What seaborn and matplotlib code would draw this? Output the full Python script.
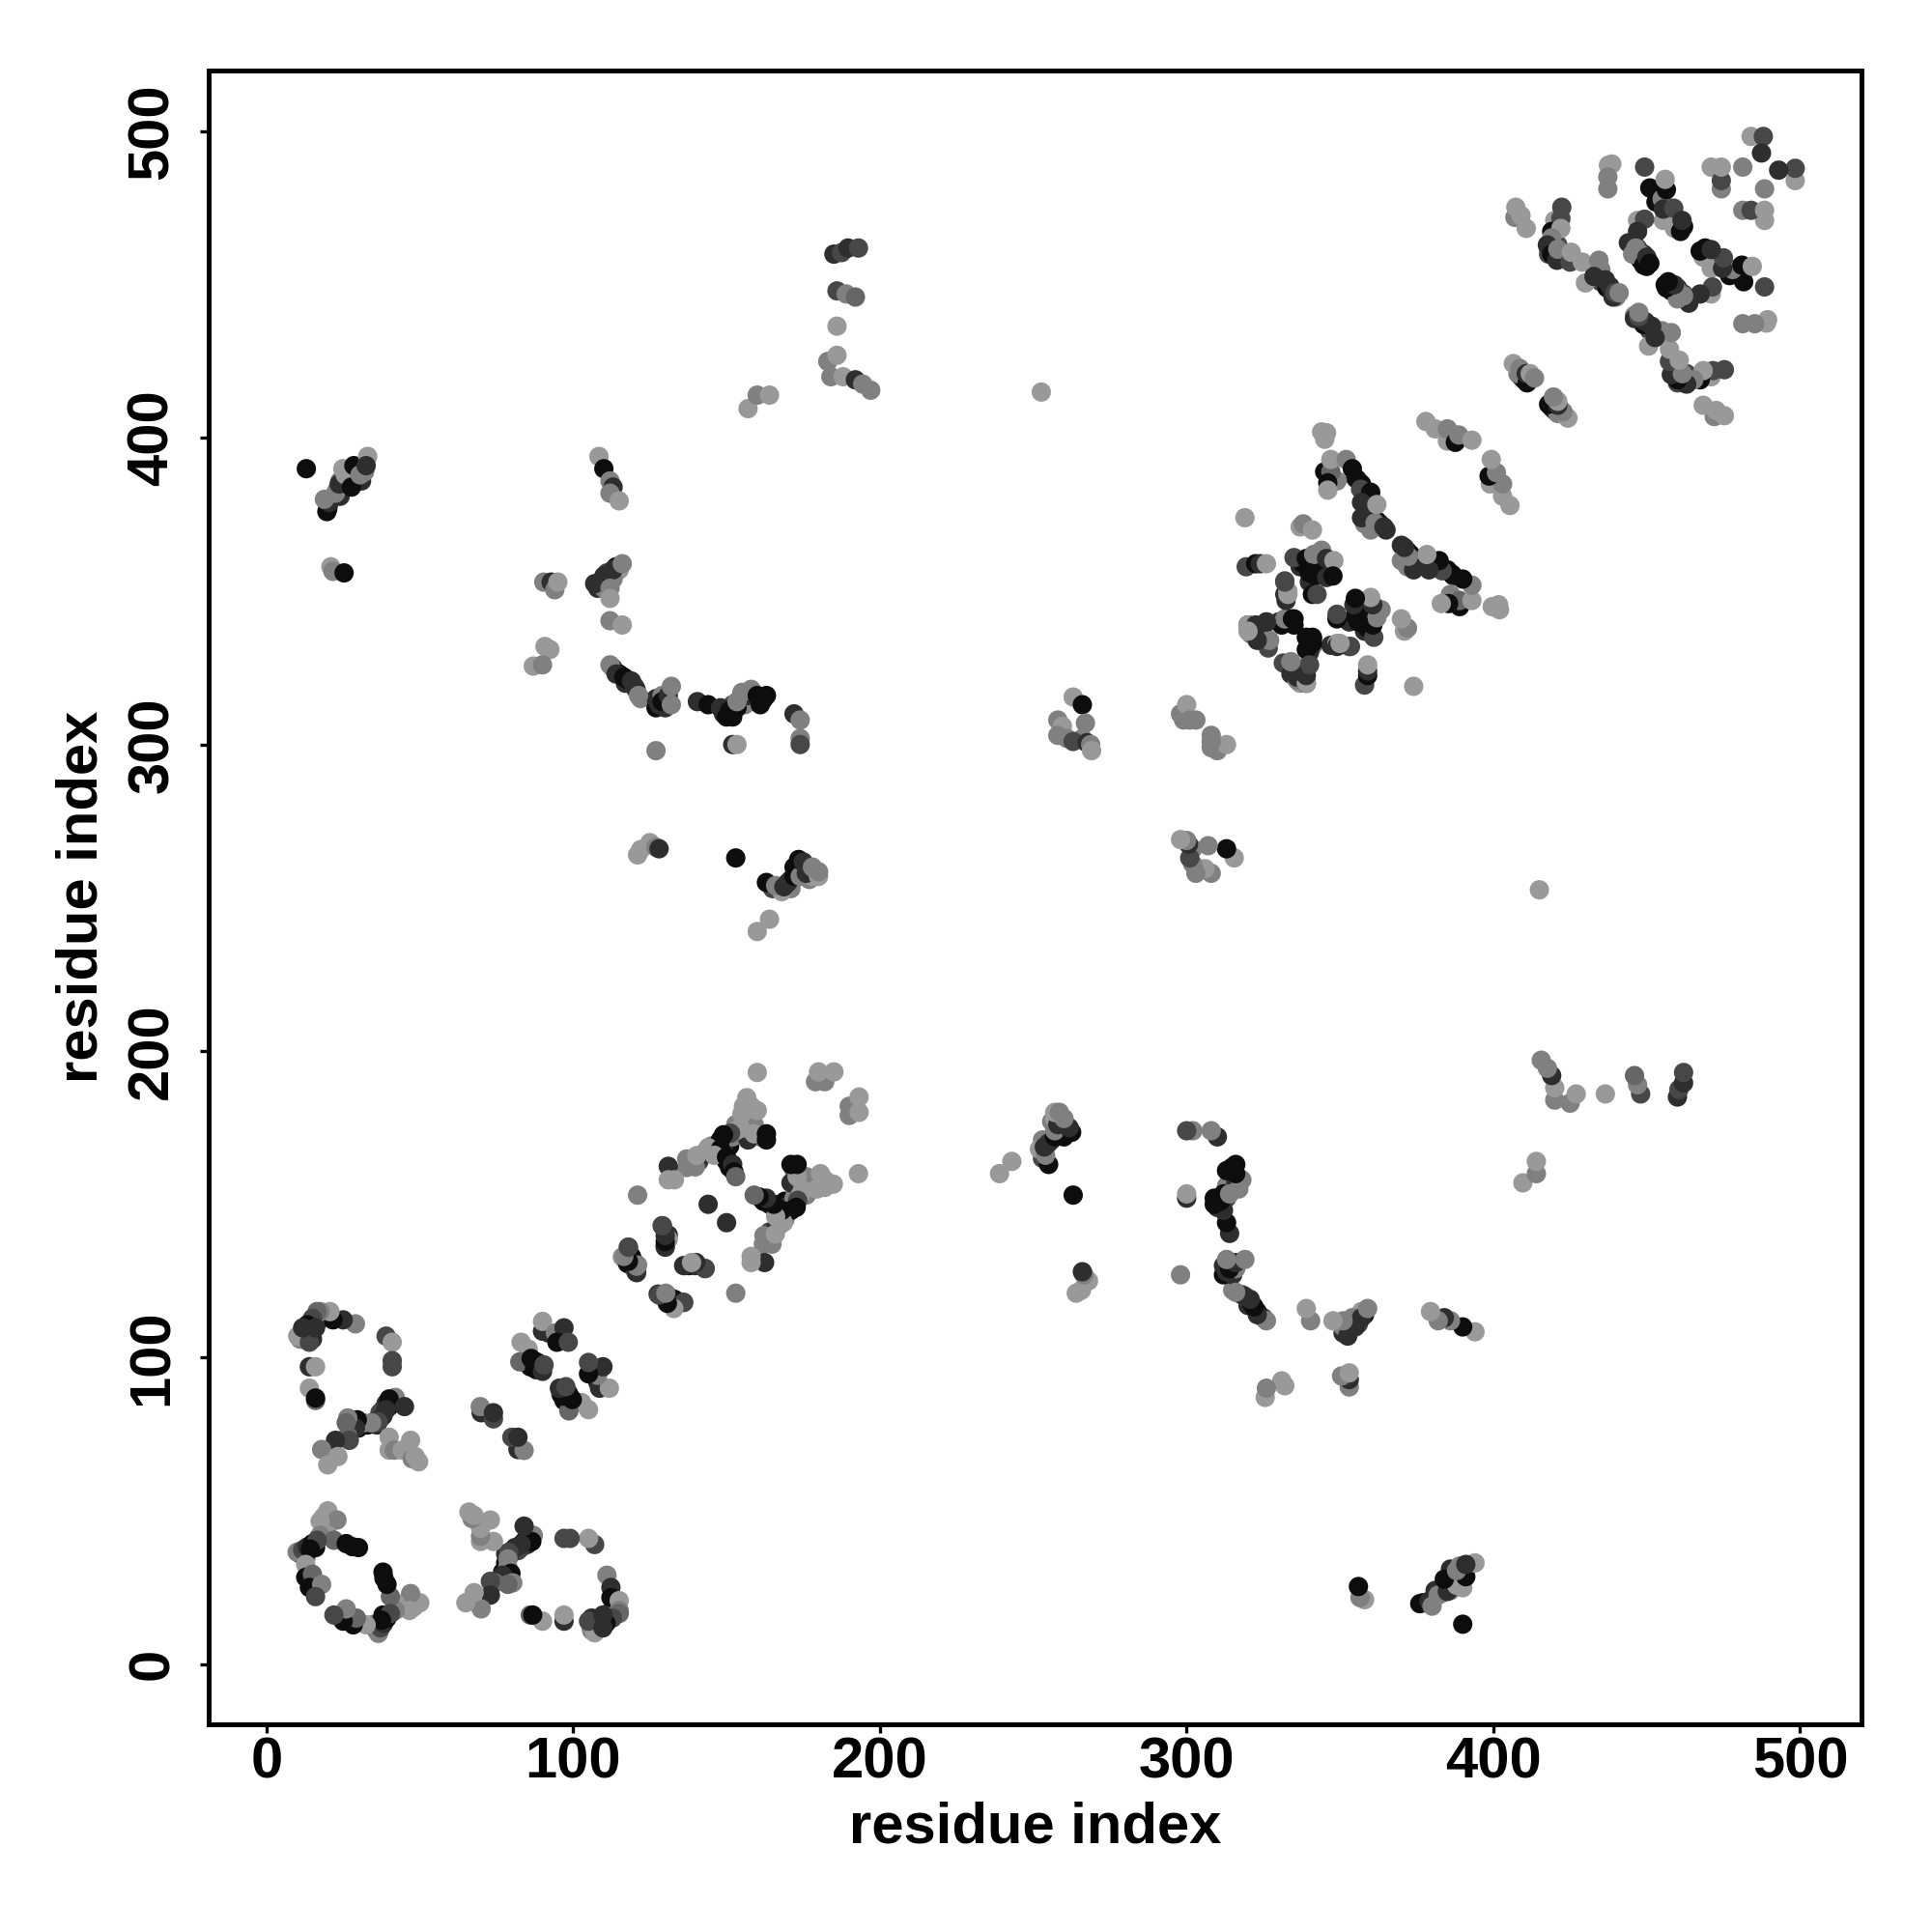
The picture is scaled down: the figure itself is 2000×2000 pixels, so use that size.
"""Residue contact map, drawn from the contacts with i < j and mirrored."""

import pandas as pd
import matplotlib
matplotlib.use("Agg")
import matplotlib.pyplot as plt
import seaborn as sns

# grey levels
K, D, S, M, L, P = 0.05, 0.18, 0.28, 0.40, 0.50, 0.60

# (residue i, residue j, grey) for one half of the map
loop_low = [
    (20, 50, P), (18.6, 48, P), (23, 47, L), (17.5, 46.6, P), (20, 42, P), (17.5, 42, L),
    (22, 40.4, M), (10, 36.5, L), (11.8, 37.2, S), (13.3, 38.2, D), (15, 39.3, K), (16.5, 40.4, S),
    (14.3, 37.5, K), (26, 39.3, K), (28, 38.3, K), (30, 38, K),
    (12.8, 32.5, P), (12.8, 28.3, K), (15, 29.3, M), (14, 25, K), (18, 26, L), (16, 22, S),
]
loop_mid = [
    (29, 111, L), (25, 112.3, D), (21.7, 112.3, K), (20.7, 115, P), (17.5, 115, L), (16.5, 115, M),
    (15, 112.8, S), (13.3, 110.7, K), (12.3, 108.6, K), (14, 107, D), (10.2, 107, P), (14, 105, S),
    (16, 109.7, D), (11.8, 109.7, D),
    (39, 107, S), (41, 105, P), (41, 99, S), (41, 97, S),
    (14, 97, D), (16, 97, P), (14, 90, P), (16, 86, M), (16, 86.8, K),
    (42, 87, L), (40, 86.5, K), (45, 84, D), (39, 83, D), (38, 81, D), (36.4, 79, S),
    (34.3, 78.7, L), (31.7, 78.7, L), (29.6, 79.7, K), (29, 77, D), (26.5, 80.3, L), (26, 78.7, M),
    (26.5, 74.5, M), (27, 73, S), (22.5, 73, D), (18, 70, L), (23.3, 67.7, P), (20, 65, P),
    (40, 74, P), (47, 73, P), (40, 69.8, P), (41.7, 69.8, L), (44.3, 69.8, P),
    (47.5, 67, L), (48.5, 67.7, P), (49.6, 66, P),
]
strand_100 = [
    (90, 108.6, D), (90, 111.8, P), (94.2, 108, L), (97, 109.7, D), (94.7, 105, K), (98.4, 105, S),
    (83, 105, P), (85.3, 102.8, P), (82.6, 98.6, M), (86.3, 99.7, K), (88, 98.6, K), (87.4, 96.5, K),
    (90, 95.5, D), (90.5, 97.6, S), (70, 82, D), (69.7, 84, L), (74, 80, S), (74, 82, D),
]
sheet_150 = [
    (160, 193, P), (179, 190, L), (182, 190, L), (180, 193.2, P), (185, 193.2, P),
    (155.5, 174.8, L), (155, 179.5, P), (155.5, 182, P), (156.6, 184.8, P), (160, 180.6, P),
    (154.5, 175, P), (153, 174, P), (151.3, 173.2, S), (149, 172.7, K), (148, 171, K),
    (159, 173, P), (163, 171, K), (163, 173, K),
    (143.5, 167.5, D), (144, 168.5, P), (148, 168, K), (146, 166, P), (150, 165.4, K),
    (152, 163, D), (152.4, 160.6, K), (153, 159, M),
    (137, 164.8, L), (137, 162, L), (139.8, 162.2, L), (140.3, 165.9, P),
    (131, 162.4, D), (131, 158, P), (133, 158, P), (121, 153, L), (144, 150, D),
    (129, 143, S), (131, 140, D), (130, 136.5, D), (131, 138.6, P),
    (118, 136, S), (116, 132.8, P), (117.7, 130.7, K), (120.4, 128, S), (121, 130.2, L),
    (136, 130, D), (137.8, 130, K), (139.8, 130, D), (143, 129.1, S),
    (127.7, 120.7, D), (129.8, 120.7, L), (131.4, 118, K), (133, 116.5, L), (136, 118, S),
]
patch_20_380 = [
    (13, 390, K), (19.7, 376, K), (20.5, 379, D), (18.9, 380, L), (22.5, 382, L), (23.7, 385, D),
    (25.7, 388, P), (24.9, 390, P), (27.7, 384, K), (28.5, 391, K), (30.5, 388, L),
    (33, 394, P), (32.5, 391, D),
    (21, 358, P), (21.7, 356.5, L), (25.3, 356, K),
]
arc_100_390 = [
    (108.4, 394, P), (110, 390, K), (112, 386, L), (113, 384, D), (112, 382, L), (115, 379.5, P),
    (107, 352.5, D), (110, 355, D), (113, 357, D), (112, 351, L), (116, 359, L), (112, 347.7, P),
    (112, 340.4, L), (116, 339, P),
    (90.4, 353, L), (92.8, 353, D), (94, 350.5, L), (95, 353, P),
    (90.8, 332, P), (92.4, 331, P), (87, 325.6, P), (90, 326, L),
]
arc_100_310 = [
    (112, 326, L), (114, 323, D), (116.5, 322, K), (119, 320.7, D), (120.5, 318, D), (121.3, 316, L),
    (128, 313, D), (129, 314, K), (131, 316, D), (132, 313, L), (132, 319, L), (127, 298, L),
    (140.5, 314, D), (144, 313, K), (148, 312, D), (151, 311, K), (150, 309, K), (153.4, 312, K),
    (153.4, 314, L), (155, 317, L), (158, 318, L), (160, 316, K), (162, 314.7, K),
    (152, 300, D), (153.4, 300, P),
    (172, 310, D), (174, 308, L), (174, 302, L), (174, 300, S),
    (121, 264, P), (122, 265.7, P), (125, 268, P), (127, 266.5, L), (128, 266, D),
    (153, 263, K), (163, 255, K), (166, 254, L), (168.7, 253.6, D), (170, 255, D), (172, 257, K),
    (174, 257, L), (173.5, 262.5, K), (175, 261.7, D), (176, 258, D), (178, 260, L),
    (180, 257, P), (180, 258.5, L),
    (164, 243, P), (160, 239, P),
]
patch_190_440 = [
    (157, 409.6, P), (160, 414, L), (164, 414, P),
    (185, 460, D), (187.5, 460.5, S), (189.6, 462, D), (193, 462, S),
    (186, 448, S), (189, 447, L), (192, 446, M), (186, 436.5, P),
    (183, 425, L), (186, 427, P), (184, 420, L), (188, 420, P), (192, 419, D), (194.4, 417.6, L),
    (197, 415.6, L),
    (252.6, 415, P),
]
patch_260_305 = [
    (258, 308, L), (259.5, 306, P), (258, 303, L), (261, 302, L), (263, 315.5, P), (266, 313, K),
    (267, 307, L), (266, 302, L), (263, 301, S), (267.5, 300.6, D), (268.7, 300, L), (269, 298, P),
    (298, 310, L), (299, 308, L), (300, 313, P), (301, 308, L), (303, 308, L),
]
block_340 = [
    (344, 402, P), (345, 399.6, P), (345.6, 401.7, P),
    (345, 389, K), (347, 389, M), (347, 393, P), (352, 393, L), (354, 390, K),
    (346, 385.4, K), (346, 383, P), (355.6, 386.5, K), (356.7, 383.3, S), (360, 382.3, K),
    (357, 379, D), (362, 378.3, P), (357, 374, D), (361.4, 372.3, L), (364.3, 371, D),
    (319, 374, P), (337, 371, P), (338, 372, L), (341, 370, P),
    (335, 361, S), (339, 360.7, K), (341.4, 362, L), (344, 363.4, L), (345.6, 360.7, D), (348, 360, P),
    (340, 356, K), (342, 355, K), (345.6, 354.5, D), (347.7, 355, K),
    (319.4, 358, S), (322.5, 359, K), (324, 359, D), (326, 359, P),
    (332, 353.4, S), (332, 349, D), (333, 350, P), (341, 349, K), (342.5, 349, S),
    (320, 339, P), (322.5, 339, D), (326, 340, S), (323.6, 334.5, D), (327, 334, L),
    (333, 341, K), (335, 341, K), (341, 332, L), (341, 334.5, K),
    (347, 332.4, D), (349, 333, P), (353, 332, S),
    (331.5, 326.6, S), (334, 327, L), (334, 323, D), (340, 326, D), (338, 322.4, D), (337, 320, P),
    (378, 405.4, P), (381, 403, P), (385, 399, P), (385, 403, L), (387.6, 398.6, K), (388.7, 401, L),
    (393, 399.3, P),
]
block_450 = [
    (484, 498.4, P), (488, 498.4, S), (487.4, 493, D),
    (438.6, 489.4, P), (437.5, 489, P), (437.3, 485.2, L), (437.3, 481.3, L),
    (449.3, 488.4, S), (451, 481.6, K), (455, 478, L), (456.4, 481, K), (456, 484.4, P),
    (455.4, 471, P), (455.4, 474.7, D), (458.8, 475, S), (459, 468.4, P), (461, 467.4, K), (461.5, 471, D),
    (471, 488.4, P), (474.3, 481.3, L), (474.3, 484, S), (474.3, 488.4, P), (481.3, 488.4, L),
    (447, 471, P), (449.3, 471.4, S), (447, 467.4, D),
    (444, 463.7, D), (445.4, 460, L), (446.4, 462, L), (448, 460, L), (449, 456.4, K), (450, 459, D),
    (451, 457, K),
    (407, 472, L), (407.3, 475.3, P), (409, 472.6, P), (410.7, 468.4, P),
    (420, 471, P), (422.3, 475.3, S), (422, 471.6, S), (419, 467.4, K), (422, 468.4, P),
    (419, 465.3, L), (417.6, 463, D), (419, 460, K), (420.7, 458, D), (421, 461.6, L),
    (425, 457.4, S), (425.4, 460.6, P), (429, 457.4, P), (434.4, 458, L),
    (430, 450.6, P), (435, 455, L), (432.8, 452.7, D), (436.5, 451.6, D), (438, 449.5, D),
    (439, 446, D), (439.6, 447.4, S), (441, 447.4, L),
    (406.5, 424.3, P), (408.6, 422.7, L), (411, 418, K), (410.7, 421, D), (412, 421, P), (413.4, 419.6, L),
]
# contacts hidden in the tightly packed strands, estimated from their thickness
packed_low = [
    (11, 36, K), (12.5, 37, D), (14, 38, K), (15.5, 39, S), (17, 41, D), (18.5, 43, L), (16, 38, K),
    (13, 35, L), (20.5, 46, L),
    (12, 106, K), (13, 108, K), (15, 110, K), (17, 112, S), (18, 113, D), (19, 114, L), (15, 106, D),
    (11, 106, L), (14.5, 108, K), (37, 80, K), (38, 83, K), (39, 85, D), (41, 86, L), (36, 78, D),
    (37, 82, S), (40, 84, K), (35, 79, D), (33, 78, K), (30, 77, K),
    (86, 97, K), (88, 96, D), (89, 98, K), (92, 108, D), (95, 106, K), (96, 108, S),
]
packed_sheet = [
    (147, 169, K), (149, 170, D), (150, 171, K), (151, 169, K), (148, 166, K), (149, 168, D),
    (152, 172, L), (153, 176, L), (155, 177, L), (157, 178, P), (158, 182, P), (150, 164, K),
    (151, 162, K), (141, 164, S), (142, 166, D), (145, 169, L), (159, 176, L), (161, 172, L),
    (157, 171, D), (119, 133, K), (118, 132, D), (119, 130, L), (120, 131, K),
]
packed_arcs = [
    (21, 380, D), (22, 381, K), (23, 383, L), (24, 381, D), (26, 385, K), (27, 386, D), (29, 388, K),
    (31, 390, D), (29, 386, L), (20, 377, K), (24, 386, L), (28, 390, S), (31, 386, D), (32, 389, L),
    (109, 353, K), (111, 354, K), (111, 356, S), (114, 358, K), (115, 357, P), (108, 351, D),
    (113, 354, L), (110, 351, L),
    (113, 325, S), (115, 323, K), (117, 320, D), (118, 321, K), (120, 319, S), (122, 315, L),
    (127, 312, K), (130, 312, D), (130, 314, L), (127, 315, D), (129, 316, L), (149, 310, D),
    (152, 309, K), (152, 313, S), (155, 315, D), (156, 313, L), (157, 316, D), (163, 316, K),
    (161, 313, K), (165, 253, S), (169, 254, K), (171, 256, D), (173, 258, D), (174, 260, K),
    (175, 259, S), (177, 256, L), (178, 257, P), (171, 253, L), (168, 252, P), (172, 260, K),
]
packed_blocks = [
    (355, 387, D), (357, 385, K), (358, 381, K), (359, 377, S), (360, 375, D), (362, 373, K),
    (363, 372, K), (365, 370, D), (358, 372, L), (360, 370, L), (347, 387, K), (349, 386, L),
    (337, 358, D), (338, 359, K), (340, 358, K), (341, 360, D), (343, 357, K), (344, 356, K),
    (346, 358, K), (334, 340, K), (330, 340, D), (323, 336, D), (325, 338, L), (321, 336, L),
    (340, 353, D), (331, 339, K), (335, 339, K), (322, 336, D), (324, 338, D), (320, 339, K),
    (418, 462, D), (419, 463, K), (420, 461, D), (422, 459, K), (423, 460, L), (421, 463, S),
    (418, 460, S), (433, 453, K), (434, 452, D), (435, 451, S), (437, 449, K), (440, 446, L),
    (446, 463, D), (447, 460, K), (448, 458, K), (450, 456, K), (447, 462, S), (449, 460, D),
    (453, 480, S), (453, 477, K), (455, 476, K), (457, 472, K), (458, 471, L), (459, 472, D),
    (462, 469, K), (409, 420, D), (410, 419, K), (408, 421, L),
]

tick_values = [0, 100, 200, 300, 400, 500]

regions = [packed_low, packed_sheet, packed_arcs, packed_blocks,
           loop_low, loop_mid, strand_100, sheet_150, patch_20_380, arc_100_390,
           arc_100_310, patch_190_440, patch_260_305, block_340, block_450]
half = pd.DataFrame([row for region in regions for row in region], columns=["i", "j", "grey"])

# the map is symmetric, so every contact shows up on both sides of the diagonal
contacts = pd.concat([half, half.rename(columns={"i": "j", "j": "i"})], ignore_index=True)
palette = {g: str(g) for g in contacts["grey"].unique()}

sns.set_style("white")
plt.rcParams["font.family"] = ["Liberation Sans", "DejaVu Sans"]
plt.rcParams["font.weight"] = "bold"

fig = plt.figure(figsize=(10, 10), dpi=200)
ax = fig.add_axes([215.5 / 2000, 1 - 1784.5 / 2000, (1927 - 215.5) / 2000, (1784.5 - 72.7) / 2000])

sns.scatterplot(data=contacts, x="i", y="j", hue="grey", palette=palette, s=52,
                linewidth=0, legend=False, ax=ax, clip_on=True)

ax.set_xlim(-19, 520)
ax.set_ylim(-19.5, 520)
ax.set_xticks(tick_values)
ax.set_yticks(tick_values)
ax.tick_params(axis="both", length=3.2, width=1.2, color="black", labelsize=21.5, labelcolor="black",
               bottom=True, left=True)
ax.tick_params(axis="x", pad=1.5)
ax.tick_params(axis="y", pad=7.5)
for label in ax.get_yticklabels():
    label.set_rotation(90)
    label.set_verticalalignment("center")

for spine in ax.spines.values():
    spine.set_linewidth(1.8)
    spine.set_color("black")

ax.set_xlabel("residue index", fontsize=21.5, fontweight="bold", color="black")
ax.set_ylabel("residue index", fontsize=21.5, fontweight="bold", color="black")
ax.xaxis.set_label_coords(0.5, -0.047)
ax.yaxis.set_label_coords(-0.06, 0.5)

fig.savefig("out.png", dpi=200)
plt.close(fig)
